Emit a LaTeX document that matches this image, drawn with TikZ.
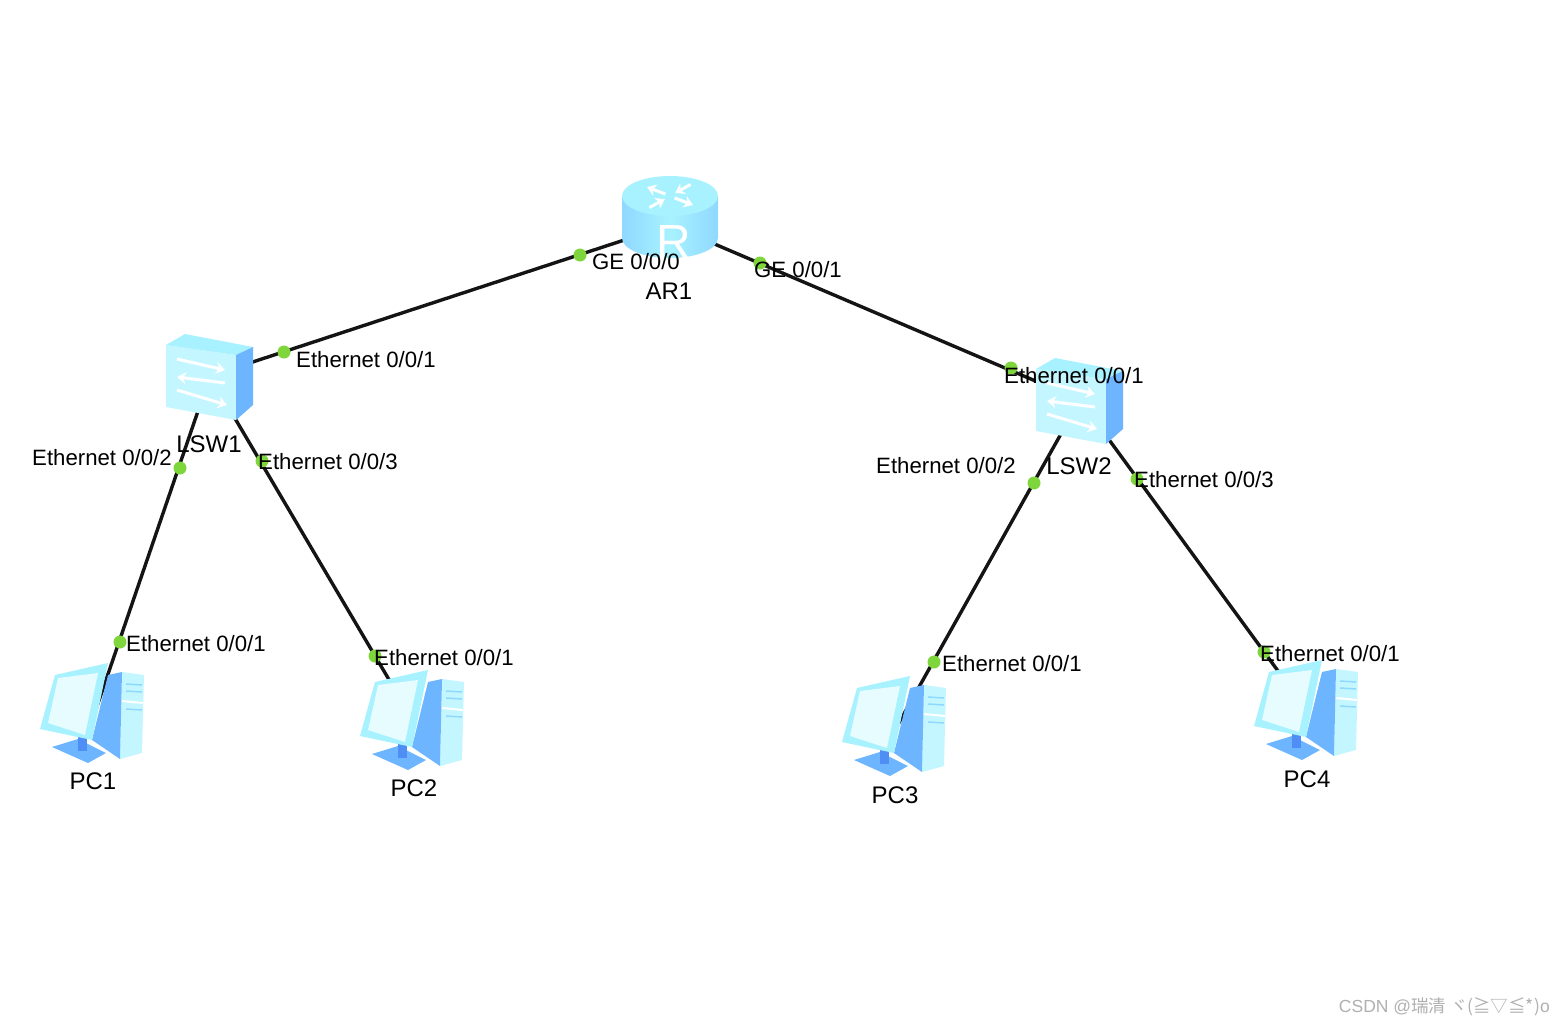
\documentclass[tikz,border=0pt]{standalone}
\usepackage{fontspec}
\setmainfont{Liberation Sans}
\newfontfamily\cjk{Noto Sans CJK SC}
\usetikzlibrary{arrows.meta}

\definecolor{dotgreen}{HTML}{7FD63C}
\definecolor{icontop}{HTML}{A8F2FF}
\definecolor{iconlight}{HTML}{C4F6FF}
\definecolor{iconpale}{HTML}{E6FCFF}
\definecolor{iconmid}{HTML}{8FD8FF}
\definecolor{iconblue}{HTML}{6DB6FF}
\definecolor{icondeep}{HTML}{4F8FF5}
\definecolor{markgray}{HTML}{B0B0B0}

\tikzset{
  device/.style={inner sep=0pt,minimum size=0pt},
  link/.style={line width=3.4pt,black!92},
  portdot/.style={circle,fill=dotgreen,inner sep=0pt,minimum size=13pt},
  portlbl/.style={inner sep=0pt,anchor=west,text=black,font=\fontsize{22.2}{26}\selectfont},
  lbl/.style={inner sep=0pt,text=black,font=\fontsize{24}{28}\selectfont},
  whitearrow/.style={white,line width=3pt,-{Stealth[length=9pt,width=12pt]}},
  pics/router/.style={code={
    \path[left color=iconmid,right color=iconmid,middle color=icontop]
      (-48,-29) -- (-48,13) arc[start angle=180,end angle=0,x radius=48,y radius=20] -- (48,-29) -- cycle;
    \fill[icontop] (0,-29) ellipse[x radius=48,y radius=20];
    \foreach \a in {40,220} \draw[whitearrow] (0,-29) ++(\a:6 and 3) -- ++(\a:24 and 11);
    \foreach \a in {130,310} \draw[whitearrow] (0,-29) ++(\a:32 and 15) -- ++(\a:-24 and -11);
    \node[device,text=white,font=\fontsize{48}{48}\selectfont] (rglyph) at (4,17) {R};
  }},
  pics/switchbox/.style={code={
    \fill[iconlight] (-44,-31) -- (26,-21) -- (26,44) -- (-44,31) -- cycle;
    \fill[icontop] (-44,-31) -- (-25,-42) -- (43,-29) -- (26,-21) -- cycle;
    \fill[iconblue] (26,-21) -- (43,-29) -- (43,29) -- (26,44) -- cycle;
    \draw[whitearrow] (-33,-17) -- (15,-6);
    \draw[whitearrow] (15,7) -- (-33,1);
    \draw[whitearrow] (-33,14) -- (17,29);
  }},
  pics/pcbox/.style={code={
    % tower
    \fill[iconlight] (28,-43) -- (50,-40) -- (48,38) -- (26,44) -- cycle;
    \fill[iconblue] (14,-40) -- (28,-43) -- (26,44) -- (-2,25) -- cycle;
    \foreach \y in {-31,-24,-6} \draw[iconmid,line width=1.5pt] (32,\y) -- (48,\y+1);
    \draw[white,line width=2pt] (28,-14) -- (49,-12);
    % base and monitor
    \fill[iconblue] (-42,32) -- (-16,24) -- (12,38) -- (-6,48) -- cycle;
    \fill[icondeep] (-16,22) -- (-7,22) -- (-7,36) -- (-16,36) -- cycle;
    \fill[icontop] (-39,-40) -- (14,-52) -- (-2,25) -- (-54,14) -- cycle;
    \fill[iconpale] (-36,-37) -- (4,-42) -- (-9,20) -- (-46,8) -- cycle;
  }}
}

\begin{document}
\begin{tikzpicture}[x=1pt,y=-1pt]
  \useasboundingbox[fill=white] (0,0) rectangle (1564,1026);
  % devices
  \node[device] (ar1) at (670,225) {};
  \foreach \n/\x/\y in {lsw1/210/376,lsw2/1080/400,pc1/94/715,pc2/414/722,pc3/896/728,pc4/1308/712}
    \node[device] (\n) at (\x,\y) {};
  % links
  \draw[link] (ar1) -- (lsw1);
  \draw[link] (ar1) -- (lsw2);
  \draw[link] (lsw1) -- (pc1);
  \draw[link] (lsw1) -- (pc2);
  \draw[link] (lsw2) -- (pc3);
  \draw[link] (lsw2) -- (pc4);
  % icons
  \pic at (ar1) {router};
  \pic at (lsw1) {switchbox};
  \pic at (lsw2) {switchbox};
  \foreach \n in {pc1,pc2,pc3,pc4}
    \pic at (\n) {pcbox};
  % port dots
  \foreach \n/\x/\y in {da/580/255,db/760/263,dc/284/352,dd/1011/368,de/180/468,df/262/461,
    dg/120/642,dh/375/656,di/1034/483,dj/1137/479,dk/934/662,dl/1264/652}
    \node[portdot] (\n) at (\x,\y) {};
  % labels
  \node[portlbl] (ge0) at (592,262) {GE 0/0/0};
  \node[portlbl] (ge1) at (754,270) {GE 0/0/1};
  \foreach \n/\x/\y/\p in {ea/296/360/1,eb/32/458/2,ec/258/462/3,ed/126/644/1,ee/374/658/1,
    ef/1004/376/1,eg/876/466/2,eh/1134/480/3,ei/942/664/1,ej/1260/654/1}
    \node[portlbl] (\n) at (\x,\y) {Ethernet 0/0/\p};
  \foreach \n/\x/\y/\t in {t0/669/291/AR1,t1/209/444/LSW1,t2/1079/466/LSW2,t3/93/781/PC1,
    t4/414/788/PC2,t5/895/795/PC3,t6/1307/779/PC4}
    \node[lbl] (\n) at (\x,\y) {\t};
  \node[inner sep=0pt,anchor=east,text=markgray,font=\fontsize{17.5}{20}\selectfont] (mark) at (1550,1007)
    {CSDN @{\cjk 瑞清 ヾ(≧▽≦*)}o};
\end{tikzpicture}
\end{document}
